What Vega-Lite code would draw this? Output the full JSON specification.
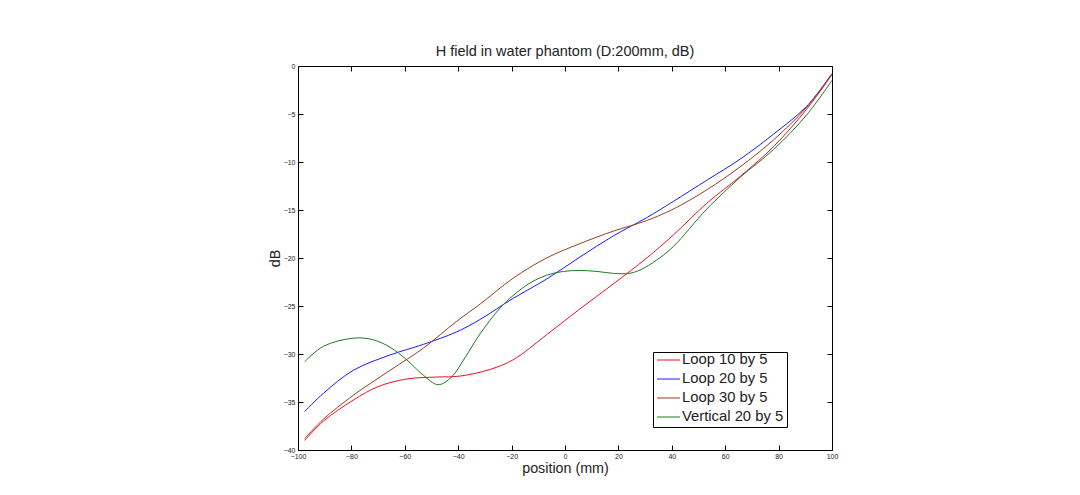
{
  "$schema": "https://vega.github.io/schema/vega-lite/v6.json",
  "autosize": "none",
  "width": 534,
  "height": 384,
  "padding": {"left": 298, "top": 66, "right": 248, "bottom": 45},
  "background": "white",
  "config": {
    "font": "Liberation Sans",
    "view": {"stroke": "black", "strokeWidth": 1}
  },
  "title": {"text": "H field in water phantom (D:200mm, dB)", "fontSize": 14.5, "fontWeight": "normal", "font": "Liberation Sans", "color": "#222", "offset": 3},
  "data": {"values": [
    {"s": "Loop 10 by 5", "x": -97.5, "y": -39.0},
    {"s": "Loop 10 by 5", "x": -90.5, "y": -37.0},
    {"s": "Loop 10 by 5", "x": -79.3, "y": -34.8},
    {"s": "Loop 10 by 5", "x": -70, "y": -33.4},
    {"s": "Loop 10 by 5", "x": -59.3, "y": -32.6},
    {"s": "Loop 10 by 5", "x": -48, "y": -32.4},
    {"s": "Loop 10 by 5", "x": -39.3, "y": -32.3},
    {"s": "Loop 10 by 5", "x": -28, "y": -31.6},
    {"s": "Loop 10 by 5", "x": -19.4, "y": -30.6},
    {"s": "Loop 10 by 5", "x": -6.9, "y": -28.0},
    {"s": "Loop 10 by 5", "x": 5.6, "y": -25.3},
    {"s": "Loop 10 by 5", "x": 18.1, "y": -22.7},
    {"s": "Loop 10 by 5", "x": 30.6, "y": -20.0},
    {"s": "Loop 10 by 5", "x": 40.6, "y": -17.6},
    {"s": "Loop 10 by 5", "x": 53.1, "y": -14.3},
    {"s": "Loop 10 by 5", "x": 65.6, "y": -11.5},
    {"s": "Loop 10 by 5", "x": 78.1, "y": -8.4},
    {"s": "Loop 10 by 5", "x": 90.5, "y": -4.5},
    {"s": "Loop 10 by 5", "x": 100, "y": -0.9},
    {"s": "Loop 20 by 5", "x": -97.5, "y": -36.0},
    {"s": "Loop 20 by 5", "x": -90.5, "y": -34.1},
    {"s": "Loop 20 by 5", "x": -79.3, "y": -31.7},
    {"s": "Loop 20 by 5", "x": -65.5, "y": -30.1},
    {"s": "Loop 20 by 5", "x": -53.1, "y": -29.0},
    {"s": "Loop 20 by 5", "x": -40.6, "y": -27.7},
    {"s": "Loop 20 by 5", "x": -31.8, "y": -26.4},
    {"s": "Loop 20 by 5", "x": -19.4, "y": -24.2},
    {"s": "Loop 20 by 5", "x": -6.9, "y": -22.2},
    {"s": "Loop 20 by 5", "x": 5.6, "y": -19.9},
    {"s": "Loop 20 by 5", "x": 18.1, "y": -17.7},
    {"s": "Loop 20 by 5", "x": 30.6, "y": -15.8},
    {"s": "Loop 20 by 5", "x": 40.6, "y": -14.1},
    {"s": "Loop 20 by 5", "x": 53.1, "y": -11.9},
    {"s": "Loop 20 by 5", "x": 65.6, "y": -9.7},
    {"s": "Loop 20 by 5", "x": 78.1, "y": -7.1},
    {"s": "Loop 20 by 5", "x": 90.5, "y": -4.2},
    {"s": "Loop 20 by 5", "x": 100, "y": -0.8},
    {"s": "Loop 30 by 5", "x": -97.5, "y": -38.8},
    {"s": "Loop 30 by 5", "x": -90.5, "y": -36.8},
    {"s": "Loop 30 by 5", "x": -79.3, "y": -34.3},
    {"s": "Loop 30 by 5", "x": -65.5, "y": -31.7},
    {"s": "Loop 30 by 5", "x": -53.1, "y": -29.4},
    {"s": "Loop 30 by 5", "x": -40.6, "y": -26.6},
    {"s": "Loop 30 by 5", "x": -31.8, "y": -24.8},
    {"s": "Loop 30 by 5", "x": -19.4, "y": -22.1},
    {"s": "Loop 30 by 5", "x": -6.9, "y": -20.0},
    {"s": "Loop 30 by 5", "x": 5.6, "y": -18.5},
    {"s": "Loop 30 by 5", "x": 18.1, "y": -17.2},
    {"s": "Loop 30 by 5", "x": 30.6, "y": -16.1},
    {"s": "Loop 30 by 5", "x": 40.6, "y": -14.9},
    {"s": "Loop 30 by 5", "x": 53.1, "y": -12.9},
    {"s": "Loop 30 by 5", "x": 65.6, "y": -10.5},
    {"s": "Loop 30 by 5", "x": 78.1, "y": -7.7},
    {"s": "Loop 30 by 5", "x": 90.5, "y": -4.3},
    {"s": "Loop 30 by 5", "x": 100, "y": -0.8},
    {"s": "Vertical 20 by 5", "x": -97.5, "y": -30.8},
    {"s": "Vertical 20 by 5", "x": -90.5, "y": -29.2},
    {"s": "Vertical 20 by 5", "x": -79.3, "y": -28.35},
    {"s": "Vertical 20 by 5", "x": -72, "y": -28.5},
    {"s": "Vertical 20 by 5", "x": -65.5, "y": -29.3},
    {"s": "Vertical 20 by 5", "x": -59.3, "y": -30.6},
    {"s": "Vertical 20 by 5", "x": -53.1, "y": -32.2},
    {"s": "Vertical 20 by 5", "x": -47.5, "y": -33.2},
    {"s": "Vertical 20 by 5", "x": -42.5, "y": -32.4},
    {"s": "Vertical 20 by 5", "x": -37.5, "y": -30.4},
    {"s": "Vertical 20 by 5", "x": -31.8, "y": -27.9},
    {"s": "Vertical 20 by 5", "x": -24.3, "y": -25.2},
    {"s": "Vertical 20 by 5", "x": -19.4, "y": -23.9},
    {"s": "Vertical 20 by 5", "x": -13.1, "y": -22.6},
    {"s": "Vertical 20 by 5", "x": -6.9, "y": -21.8},
    {"s": "Vertical 20 by 5", "x": -0.6, "y": -21.4},
    {"s": "Vertical 20 by 5", "x": 5.6, "y": -21.3},
    {"s": "Vertical 20 by 5", "x": 12, "y": -21.4},
    {"s": "Vertical 20 by 5", "x": 18.1, "y": -21.6},
    {"s": "Vertical 20 by 5", "x": 24, "y": -21.6},
    {"s": "Vertical 20 by 5", "x": 28.1, "y": -21.25},
    {"s": "Vertical 20 by 5", "x": 34.4, "y": -20.2},
    {"s": "Vertical 20 by 5", "x": 40.6, "y": -18.8},
    {"s": "Vertical 20 by 5", "x": 53.1, "y": -14.9},
    {"s": "Vertical 20 by 5", "x": 65.6, "y": -11.6},
    {"s": "Vertical 20 by 5", "x": 78.1, "y": -8.7},
    {"s": "Vertical 20 by 5", "x": 90.5, "y": -5.1},
    {"s": "Vertical 20 by 5", "x": 100, "y": -1.5}
  ]},
  "layer": [
    {
      "mark": {"type": "line", "interpolate": "catmull-rom", "strokeWidth": 1},
      "encoding": {
        "x": {"field": "x", "type": "quantitative", "scale": {"domain": [-100, 100], "nice": false},
          "axis": {"title": "position (mm)", "titleFontSize": 14.3, "titleFontWeight": "normal", "titleColor": "#222", "titlePadding": 2,
            "values": [-100, -80, -60, -40, -20, 0, 20, 40, 60, 80, 100], "labelFontSize": 7, "labelColor": "#222",
            "tickSize": -5, "labelPadding": 7, "domain": false, "grid": false, "tickColor": "black", "labelFlush": false}},
        "y": {"field": "y", "type": "quantitative", "scale": {"domain": [-40, 0], "nice": false},
          "axis": {"title": "dB", "titleFontSize": 14.3, "titleFontWeight": "normal", "titleColor": "#222", "titlePadding": 1,
            "values": [0, -5, -10, -15, -20, -25, -30, -35, -40], "labelFontSize": 7, "labelColor": "#222",
            "tickSize": -5, "labelPadding": 8, "domain": false, "grid": false, "tickColor": "black", "labelFlush": false}},
        "color": {"field": "s", "type": "nominal",
          "scale": {"domain": ["Loop 10 by 5", "Loop 20 by 5", "Loop 30 by 5", "Vertical 20 by 5"], "range": ["#f0102a", "#1a1aff", "#9c3c1c", "#1f7a1f"]},
          "legend": {"title": null, "orient": "none", "legendX": 355, "legendY": 286, "direction": "vertical",
            "symbolType": "stroke", "symbolSize": 529, "symbolStrokeWidth": 1.2, "labelFontSize": 14.8, "labelColor": "#222",
            "clipHeight": 10, "strokeColor": "black", "fillColor": "white", "padding": 3, "rowPadding": 4, "labelOffset": 1}}
      }
    },
    {
      "mark": {"type": "line", "opacity": 0},
      "encoding": {
        "x": {"field": "x", "type": "quantitative", "scale": {"domain": [-100, 100], "nice": false},
          "axis": {"orient": "top", "title": null, "labels": false, "values": [-100, -80, -60, -40, -20, 0, 20, 40, 60, 80, 100], "tickSize": -5, "domain": false, "grid": false, "tickColor": "black"}},
        "y": {"field": "y", "type": "quantitative", "scale": {"domain": [-40, 0], "nice": false},
          "axis": {"orient": "right", "title": null, "labels": false, "values": [0, -5, -10, -15, -20, -25, -30, -35, -40], "tickSize": -5, "domain": false, "grid": false, "tickColor": "black"}}
      }
    }
  ],
  "resolve": {"axis": {"x": "independent", "y": "independent"}}
}
